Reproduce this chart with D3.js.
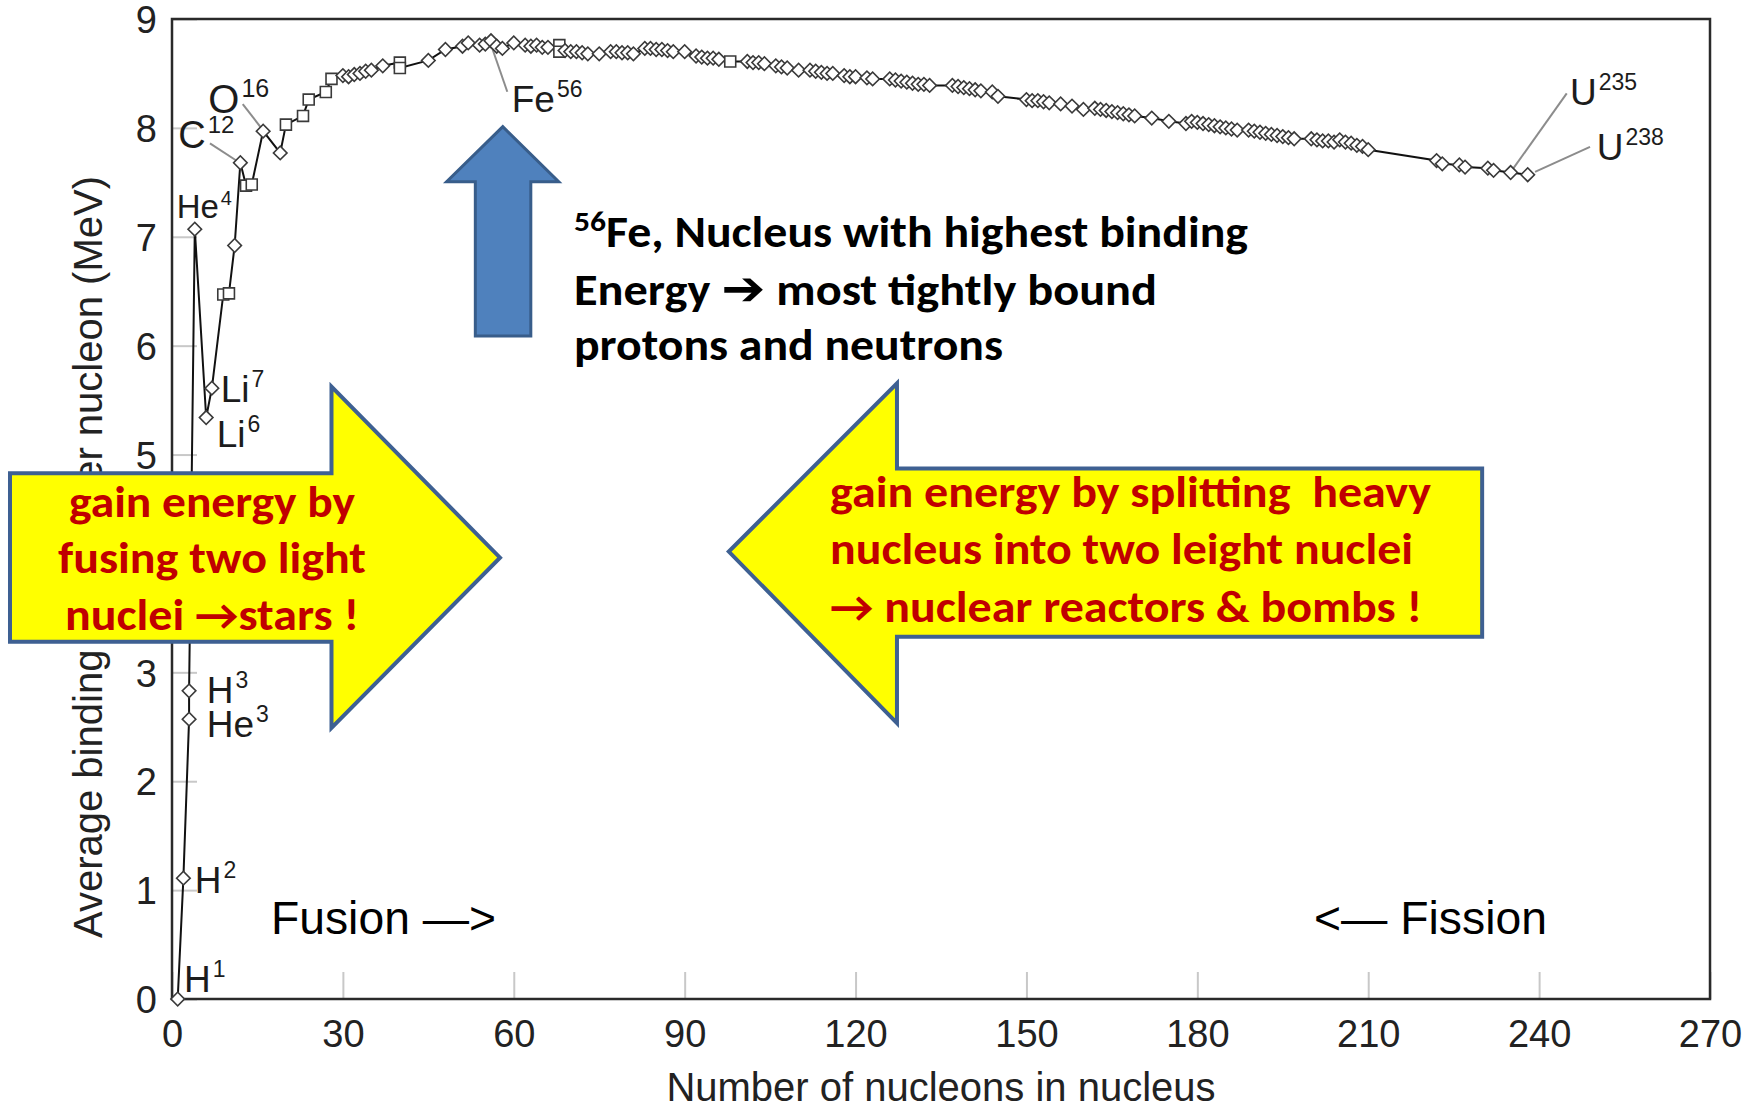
<!DOCTYPE html>
<html><head><meta charset="utf-8">
<script src="https://cdn.jsdelivr.net/npm/d3@7"></script>
<style>
html,body{margin:0;padding:0;background:#fff;}
svg{display:block;}
</style></head>
<body>
<svg id="chart" width="1758" height="1110"></svg>
<script>
// ---------------- DATA ----------------
const massNumber = [1,2,3,3,4,6,7,9,10,11,12,13,14,16,19,20,23,24,27,28,
  30,31,32,33,34,35,37,40,40,45,48,51,52,54,55,56,57,58,60,62,
  63,64,65,66,68,68,69,70,71,72,73,75,77,78,79,80,81,83,84,85,
  86,87,88,90,92,93,94,95,96,98,101,102,103,104,106,107,108,110,112,113,
  114,115,116,118,119,120,122,123,126,127,128,129,130,131,132,133,137,138,139,140,
  141,142,144,145,150,151,152,153,154,156,158,160,162,163,164,165,166,167,168,169,
  172,175,178,179,180,181,182,183,184,185,186,187,189,190,191,192,193,194,195,196,
  197,200,201,202,203,204,205,206,207,208,209,210,222,223,226,227,231,232,235,238];
const bindingEnergy = [0.00,1.11,2.57,2.83,7.07,5.34,5.61,6.47,6.48,6.92,7.68,7.47,7.48,7.97,7.77,8.03,8.11,8.26,8.33,8.45,
  8.48,8.47,8.49,8.50,8.52,8.53,8.57,8.60,8.55,8.62,8.72,8.75,8.78,8.76,8.77,8.80,8.75,8.73,8.78,8.76,
  8.75,8.76,8.74,8.74,8.76,8.70,8.71,8.70,8.70,8.69,8.68,8.68,8.70,8.70,8.69,8.69,8.68,8.73,8.73,8.72,
  8.72,8.71,8.70,8.70,8.66,8.65,8.64,8.64,8.63,8.61,8.61,8.60,8.60,8.59,8.57,8.56,8.55,8.53,8.53,8.52,
  8.51,8.50,8.50,8.48,8.47,8.47,8.46,8.45,8.45,8.44,8.43,8.42,8.41,8.40,8.40,8.39,8.39,8.38,8.37,8.36,
  8.35,8.34,8.33,8.29,8.26,8.25,8.25,8.24,8.23,8.22,8.20,8.17,8.18,8.17,8.16,8.15,8.14,8.13,8.12,8.11,
  8.09,8.06,8.04,8.06,8.05,8.04,8.03,8.02,8.01,8.00,7.99,7.98,7.98,7.97,7.96,7.95,7.94,7.93,7.92,7.91,
  7.90,7.90,7.89,7.88,7.88,7.87,7.89,7.87,7.86,7.84,7.83,7.80,7.70,7.67,7.66,7.64,7.63,7.61,7.59,7.57];
// "s" = square marker, "d" = diamond marker
const markerShape = ["d","d","d","d","d","d","d","s","s","d","d","s","s","d","d","s","s","s","s","s",
  "d","d","d","d","d","d","d","s","s","d","d","d","d","d","d","d","d","d","d","d",
  "d","d","d","d","s","s","d","d","d","d","d","d","d","d","d","d","d","d","d","d",
  "d","d","d","d","d","d","d","d","d","s","d","d","d","d","d","d","d","d","d","d",
  "d","d","d","d","d","d","d","d","d","d","d","d","d","d","d","d","d","d","d","d",
  "d","d","d","d","d","d","d","d","d","d","d","d","d","d","d","d","d","d","d","d",
  "d","d","d","d","d","d","d","d","d","d","d","d","d","d","d","d","d","d","d","d",
  "d","d","d","d","d","d","d","d","d","d","d","d","d","d","d","d","d","d","d","d"];

const labelPoint   = [0,1,2,3,4,5,6,10,13,35,158,159];
const labelElement = ["H","H","He","H","He","Li","Li","C","O","Fe","U","U"];
const labelMass    = ["1","2","3","3","4","6","7","12","16","56","235","238"];

const xTickValues = [0,30,60,90,120,150,180,210,240,270];
const yTickValues = [0,1,2,3,4,5,6,7,8,9];
const xTitle = "Number of nucleons in nucleus";
const yTitle = "Average binding energy per nucleon (MeV)";

const feNoteSup = "56";
const feNoteLines = ["Fe, Nucleus with highest binding", "Energy ", "\u2794", " most tightly bound", "protons and neutrons"];
const fusionLines = ["gain energy by", "fusing two light", "nuclei \u2192stars !"];
const fissionLines = ["gain energy by splitting  heavy", "nucleus into two leight nuclei", "\u2192 nuclear reactors & bombs !"];
const fusionTag = "Fusion \u2014>";
const fissionTag = "<\u2014 Fission";

// ---------------- LAYOUT (positions / styles) ----------------
const sansFont = "'Liberation Sans', Arial, Helvetica, sans-serif";
const noteFont = "Carlito, Calibri, Lato, 'Open Sans', sans-serif";
const labelLayout = [
  {dx:6.3, dy:-7.3},
  {dx:11.3, dy:14.6},
  {dx:17.6, dy:17.6},
  {dx:17.6, dy:12.5},
  {dx:-18.1, dy:-10.8, fs:33},
  {dx:10.5, dy:29.2},
  {dx:8.8, dy:13.6},
  {dx:-62.1, dy:-14.4, fs:38, leader:[-30.4,-19.4,-3.7,-2]},
  {dx:-54.8, dy:-18.4, fs:40, leader:[-20.4,-27.1,-2.4,-3.8]},
  {dx:20.7, dy:70.9, leader:[0.7,6,16.3,51]},
  {dx:59.4, dy:-67.5, leader:[2.7,-4.1,56.1,-79.1]},
  {dx:69, dy:-14.7, leader:[7.3,-2.8,62.3,-27.8]}
];
// arrow shapes in data units (A, MeV)
const blueArrowShape = [[53.25,6.089],[53.25,7.506],[48.21,7.506],[58.07,8.011],[67.89,7.506],[62.99,7.506],[62.99,6.089]];
const fusionArrowShape = [[-28.44,4.828],[28.0,4.828],[28.0,5.623],[57.58,4.053],[28.0,2.489],[28.0,3.281],[-28.44,3.281]];
const fissionArrowShape = [[230.0,4.871],[127.27,4.871],[127.27,5.653],[97.75,4.109],[127.27,2.533],[127.27,3.326],[230.0,3.326]];

// ---------------- DRAW ----------------
const svg = d3.select("#chart");
const x = d3.scaleLinear().domain([0,270]).range([172,1710]);
const y = d3.scaleLinear().domain([0,9]).range([999,19]);
const points = massNumber.map((a,i)=>({a, e:bindingEnergy[i], s:markerShape[i]}));

// y title
svg.append("text")
  .attr("transform", `translate(102,938) rotate(-90)`)
  .attr("font-family", sansFont).attr("font-size", 40).attr("fill", "#222")
  .text(yTitle);

// x title
svg.append("text")
  .attr("x", (x(0)+x(270))/2).attr("y", 1101)
  .attr("text-anchor","middle")
  .attr("font-family", sansFont).attr("font-size", 40).attr("fill", "#222")
  .text(xTitle);

// axes
const gx = svg.append("g").attr("transform", `translate(0,${y(0)})`)
  .call(d3.axisBottom(x).tickValues(xTickValues).tickSizeInner(-27).tickSizeOuter(0).tickPadding(0).tickFormat(d3.format("d")));
gx.select(".domain").remove();
gx.selectAll(".tick line").attr("stroke","#c8c8c8").attr("stroke-width",2);
gx.selectAll(".tick text").attr("y",48).attr("dy",null)
  .attr("font-size",38).attr("font-family",sansFont).attr("fill","#222");

const gy = svg.append("g").attr("transform", `translate(${x(0)},0)`)
  .call(d3.axisLeft(y).tickValues(yTickValues).tickSizeInner(-25).tickSizeOuter(0).tickPadding(15).tickFormat(d3.format("d")));
gy.select(".domain").remove();
gy.selectAll(".tick line").attr("stroke","#c8c8c8").attr("stroke-width",2);
gy.selectAll(".tick text").attr("dy","0.36em")
  .attr("font-size",38).attr("font-family",sansFont).attr("fill","#222");

// plot frame
svg.append("rect")
  .attr("x", x(0)).attr("y", y(9)).attr("width", x(270)-x(0)).attr("height", y(0)-y(9))
  .attr("fill","none").attr("stroke","#2a2a2a").attr("stroke-width",2.5);

// leader lines
const gLab = svg.append("g");
labelPoint.forEach((pi,k)=>{
  const lay = labelLayout[k]; if(!lay.leader) return;
  const p = points[pi], px = x(p.a), py = y(p.e);
  gLab.append("line")
    .attr("x1", px+lay.leader[0]).attr("y1", py+lay.leader[1])
    .attr("x2", px+lay.leader[2]).attr("y2", py+lay.leader[3])
    .attr("stroke","#8c8c8c").attr("stroke-width",2);
});

// data line
svg.append("path").datum(points)
  .attr("d", d3.line().x(d=>x(d.a)).y(d=>y(d.e)))
  .attr("fill","none").attr("stroke","#111").attr("stroke-width",2);

// markers
svg.append("g").selectAll("path").data(points).join("path")
  .attr("transform", d=>`translate(${x(d.a)},${y(d.e)})${d.s==="d" ? " rotate(45)" : ""}`)
  .attr("d", d=>d3.symbol(d3.symbolSquare, d.s==="d" ? 92 : 120)())
  .attr("fill","#fff").attr("stroke","#3a3a3a").attr("stroke-width",1.6);

// nucleus labels
labelPoint.forEach((pi,k)=>{
  const lay = labelLayout[k];
  const p = points[pi], px = x(p.a), py = y(p.e);
  const fs = lay.fs || 37;
  const t = gLab.append("text")
    .attr("x", px+lay.dx).attr("y", py+lay.dy)
    .attr("font-family", sansFont).attr("font-size", fs).attr("fill","#1c1c1c");
  t.append("tspan").text(labelElement[k]);
  t.append("tspan").attr("dx",2).attr("dy",-Math.round(fs*0.4)).attr("font-size",Math.round(fs*0.62)).text(labelMass[k]);
});

// arrows
const poly = pts => d3.line().x(d=>x(d[0])).y(d=>y(d[1]))(pts) + "Z";
svg.append("path").attr("d", poly(blueArrowShape))
  .attr("fill","#4F81BD").attr("stroke","#385D8A").attr("stroke-width",3).attr("stroke-linejoin","miter");
svg.append("path").attr("d", poly(fusionArrowShape))
  .attr("fill","#FFFF00").attr("stroke","#3E6092").attr("stroke-width",4).attr("stroke-linejoin","miter");
svg.append("path").attr("d", poly(fissionArrowShape))
  .attr("fill","#FFFF00").attr("stroke","#3E6092").attr("stroke-width",4).attr("stroke-linejoin","miter");

// Fe note
const noteStyle = sel => sel.attr("font-family", noteFont).attr("font-weight",700).attr("font-size",44)
  .attr("lengthAdjust","spacingAndGlyphs").style("white-space","pre");
const fe1 = svg.append("text").attr("x",574).attr("y",246.7).attr("fill","#000").call(noteStyle).attr("textLength",674);
fe1.append("tspan").attr("font-size",29).attr("dy",-16).text(feNoteSup);
fe1.append("tspan").attr("dy",16).text(feNoteLines[0]);
const fe2 = svg.append("text").attr("x",574).attr("y",305).attr("fill","#000").call(noteStyle).attr("textLength",583);
fe2.append("tspan").text(feNoteLines[1]);
fe2.append("tspan").attr("font-family","'DejaVu Sans', sans-serif").attr("font-size",48).text(feNoteLines[2]);
fe2.append("tspan").text(feNoteLines[3]);
svg.append("text").attr("x",574).attr("y",360).attr("fill","#000").call(noteStyle).attr("textLength",429).text(feNoteLines[4]);

// fusion text
const fusionBase = [516.7, 573.3, 630], fusionW = [286, 308, 294];
fusionLines.forEach((s,i)=>{
  svg.append("text").attr("x",212).attr("y",fusionBase[i]).attr("text-anchor","middle")
    .attr("fill","#C00000").call(noteStyle).attr("textLength",fusionW[i]).text(s);
});
// fission text
const fissionBase = [507, 564, 622], fissionW = [601, 583, 592];
fissionLines.forEach((s,i)=>{
  svg.append("text").attr("x",830).attr("y",fissionBase[i])
    .attr("fill","#C00000").call(noteStyle).attr("textLength",fissionW[i]).text(s);
});

// fusion / fission tags
svg.append("text").attr("x",271).attr("y",934).attr("font-family",sansFont).attr("font-size",46)
  .attr("fill","#000").attr("textLength",225).attr("lengthAdjust","spacingAndGlyphs").text(fusionTag);
svg.append("text").attr("x",1314).attr("y",934).attr("font-family",sansFont).attr("font-size",46)
  .attr("fill","#000").attr("textLength",233).attr("lengthAdjust","spacingAndGlyphs").text(fissionTag);
</script>
</body></html>
